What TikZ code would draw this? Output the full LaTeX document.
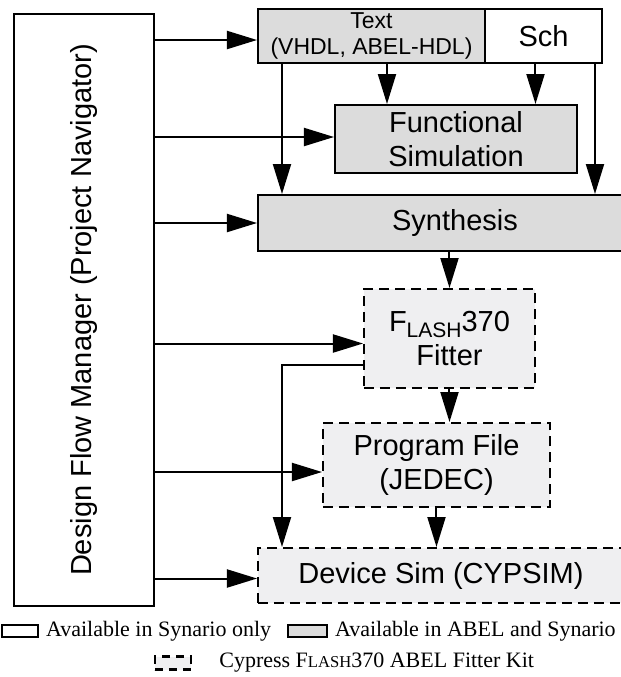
\documentclass[tikz,border=0pt]{standalone}
\usepackage{fontspec}
\setmainfont{Liberation Serif}
\newfontfamily\boxfont{Liberation Sans}
\usepackage{xcolor}
\usetikzlibrary{arrows.meta,positioning,calc}
\definecolor{boxgray}{HTML}{DCDCDC}
\definecolor{kitgray}{HTML}{EFEFF1}
\newcommand{\flashsf}{F\raisebox{-0.4ex}{\fontsize{10.5}{12}\selectfont LASH}370}
\newcommand{\flashrm}{F{\fontsize{8.3}{10}\selectfont LASH}370}

\begin{document}
\begin{tikzpicture}[
    x=0.5pt, y=-0.5pt,
    every node/.style={font=\boxfont\fontsize{14.5}{17}\selectfont},
    nd/.style={draw, line width=1pt, inner sep=0pt, align=center},
    kit/.style={nd, dash pattern=on 5pt off 3pt, fill=kitgray},
    arr/.style={-{Triangle[length=15pt,width=9pt]}, line width=1pt},
    key/.style={font=\rmfamily\fontsize{11}{13}\selectfont},
  ]
  \useasboundingbox (0,0) rectangle (621,677);

  \node[nd, minimum width=70pt, minimum height=296pt] (dfm) at (84,310) {\rotatebox{90}{Design Flow Manager (Project Navigator)}};
  \node[nd, fill=boxgray, minimum width=113.5pt, minimum height=27pt, font=\boxfont\fontsize{11.5}{13}\selectfont] (txt) at (371.5,36) {Text\\(VHDL, ABEL-HDL)};
  \node[nd, minimum width=58.5pt, minimum height=27pt] (sch) at (543.5,36) {Sch};
  \node[nd, fill=boxgray, minimum width=121pt, minimum height=34pt] (fun) at (456,139) {Functional\\Simulation};
  \node[nd, fill=boxgray, minimum width=197pt, minimum height=28pt] (syn) at (455,223) {Synthesis};
  \node[kit, minimum width=85.5pt, minimum height=49.5pt] (fit) at (449.5,338.5) {\flashsf\\Fitter};
  \node[kit, minimum width=113.5pt, minimum height=42pt] (pf) at (436.5,465) {Program File\\(JEDEC)};
  \node[kit, minimum width=183pt, minimum height=27.5pt] (dev) at (441,575.5) {Device Sim (CYPSIM)};

  \draw[arr] (dfm.east |- txt.west) ++(0,4) -- ([yshift=-2pt]txt.west);
  \draw[arr] (dfm.east |- fun.west) ++(0,-2) -- ([yshift=1pt]fun.west);
  \draw[arr] (dfm.east |- syn.west) -- (syn.west);
  \draw[arr] (dfm.east |- fit.west) ++(0,5) -- ([yshift=-2.5pt]fit.west);
  \draw[arr] (dfm.east |- pf.west) ++(0,7) -- ([yshift=-3.5pt]pf.west);
  \draw[arr] (dfm.east |- dev.west) ++(0,3) -- ([yshift=-1.5pt]dev.west);

  \draw[arr] ([xshift=12.5pt]txt.south west) -- ([xshift=12.5pt]syn.north west);
  \draw[arr] ([xshift=26.5pt]fun.north west |- txt.south) -- ([xshift=26.5pt]fun.north west);
  \draw[arr] ([xshift=-4pt]sch.south) -- ([xshift=-4pt]sch.south |- fun.north);
  \draw[arr] ([xshift=-4pt]sch.south east) -- ([xshift=-4pt]sch.south east |- syn.north);
  \draw[arr] (fit.north |- syn.south) -- (fit.north);
  \draw[arr] (fit.south) -- (fit.south |- pf.north);
  \draw[arr] (pf.south) -- (pf.south |- dev.north);
  \draw[arr] ([yshift=-13pt]fit.west) -| ([xshift=12.5pt]dev.north west);

  \node[nd, minimum width=18pt, minimum height=6pt] (keysyn) at (20,631) {};
  \node[key, right=0pt of keysyn] (lblsyn) {Available in Synario only};
  \node[nd, fill=boxgray, minimum width=19.5pt, minimum height=6pt] (keyabel) at (307.5,631) {};
  \node[key, right=0pt of keyabel] (lblabel) {Available in ABEL and Synario};
  \node[kit, line width=1.3pt, dash pattern=on 4pt off 3pt, minimum width=18pt, minimum height=6.5pt] (keykit) at (173,663) {};
  \node[key, right=10pt of keykit] (lblkit) {Cypress \flashrm{} ABEL Fitter Kit};
\end{tikzpicture}
\end{document}
